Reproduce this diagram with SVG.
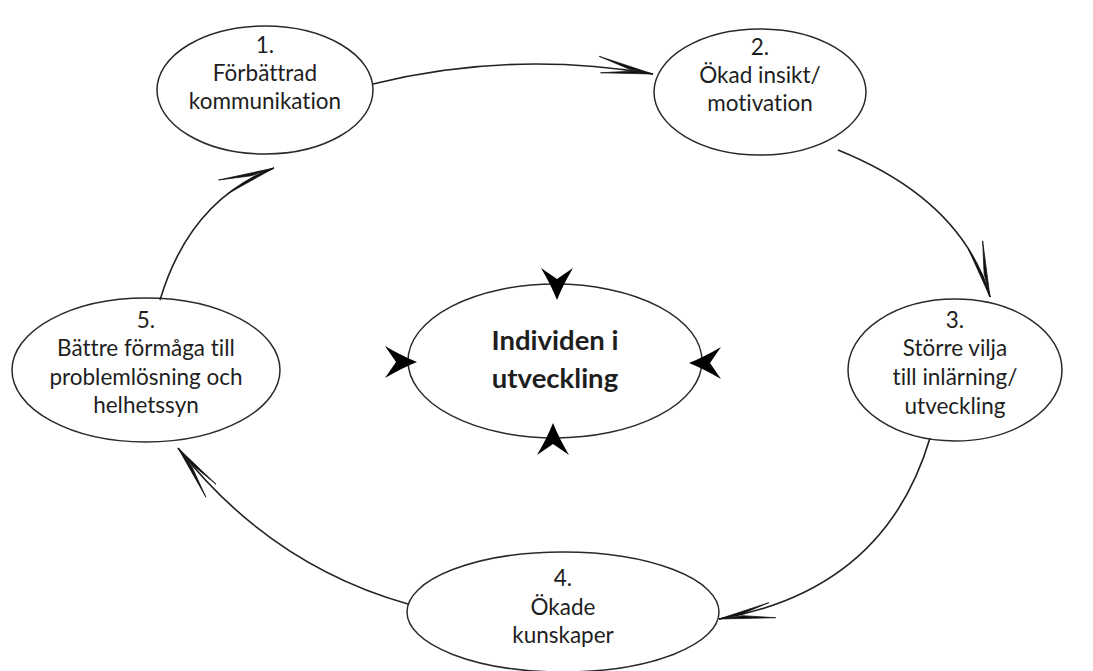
<svg xmlns="http://www.w3.org/2000/svg" xmlns:xlink="http://www.w3.org/1999/xlink" width="1093" height="671" viewBox="0 0 1093 671">
<style>
.node{fill:#fff;stroke:#2a2a2a;stroke-width:1.5}
.lbl{font-family:Lato,"Noto Sans","Liberation Sans",sans-serif;font-size:22.5px;fill:#1e1e1e;text-anchor:middle;font-variant-ligatures:none;font-feature-settings:"liga" 0}
.bold{font-weight:bold;font-size:27.5px}
.conn{fill:none;stroke:#222;stroke-width:1.6}
.dart{fill:#000}
</style>
<defs>
<marker id="barb" markerUnits="userSpaceOnUse" orient="auto" viewBox="-62 -10 64 20" refX="0" refY="0" markerWidth="64" markerHeight="20" overflow="visible">
<path d="M0,0 L-56,-8.5 L-24,-0.8 Z M0,0 L-52,7.5 L-22,0.8 Z" fill="#111" stroke="#111" stroke-width="0.7" stroke-linejoin="round"/>
</marker>
<path id="dart" d="M0,0 Q-6,-15 -16,-32 L0,-21 L16,-32 Q6,-15 0,0 Z"/>
</defs>
<rect width="1093" height="671" fill="#fff"/>
<g id="node1">
<ellipse class="node" cx="265" cy="90" rx="108" ry="64"/>
<text class="lbl" x="265" y="53">1.</text>
<text class="lbl" x="265" y="81">Förbättrad</text>
<text class="lbl" x="265" y="109">kommunikation</text>
</g>
<g id="node2">
<ellipse class="node" cx="760" cy="92" rx="106" ry="63"/>
<text class="lbl" x="760" y="55">2.</text>
<text class="lbl" x="760" y="83">Ökad insikt/</text>
<text class="lbl" x="760" y="111">motivation</text>
</g>
<g id="node3">
<ellipse class="node" cx="955" cy="370" rx="107" ry="71"/>
<text class="lbl" x="955" y="328">3.</text>
<text class="lbl" x="955" y="356">Större vilja</text>
<text class="lbl" x="955" y="385">till inlärning/</text>
<text class="lbl" x="955" y="414">utveckling</text>
</g>
<g id="node4">
<ellipse class="node" cx="563" cy="612" rx="156" ry="60"/>
<text class="lbl" x="563" y="586">4.</text>
<text class="lbl" x="563" y="615">Ökade</text>
<text class="lbl" x="563" y="643">kunskaper</text>
</g>
<g id="node5">
<ellipse class="node" cx="146" cy="370" rx="134" ry="72"/>
<text class="lbl" x="146" y="328">5.</text>
<text class="lbl" x="146" y="356">Bättre förmåga till</text>
<text class="lbl" x="146" y="385">problemlösning och</text>
<text class="lbl" x="146" y="413">helhetssyn</text>
</g>
<g id="center">
<ellipse class="node" cx="555" cy="361" rx="147" ry="77"/>
<text class="lbl bold" x="555" y="350">Individen i</text>
<text class="lbl bold" x="555" y="388">utveckling</text>
</g>
<g id="connectors">
<path class="conn" marker-end="url(#barb)" d="M373,84 Q510,50 653,74"/>
<path class="conn" marker-end="url(#barb)" d="M838,150 Q962,200 990,297"/>
<path class="conn" marker-end="url(#barb)" d="M930,438 Q885,590 719,619"/>
<path class="conn" marker-end="url(#barb)" d="M408,604 Q270,565 178,448"/>
<path class="conn" marker-end="url(#barb)" d="M160,300 Q190,200 274,168"/>
<g id="center-arrows" class="dart">
<use xlink:href="#dart" transform="translate(557,300)"/>
<use xlink:href="#dart" transform="translate(553,423) rotate(180)"/>
<use xlink:href="#dart" transform="translate(417,362) rotate(-90)"/>
<use xlink:href="#dart" transform="translate(689,363) rotate(90)"/>
</g>
</g>
</svg>
